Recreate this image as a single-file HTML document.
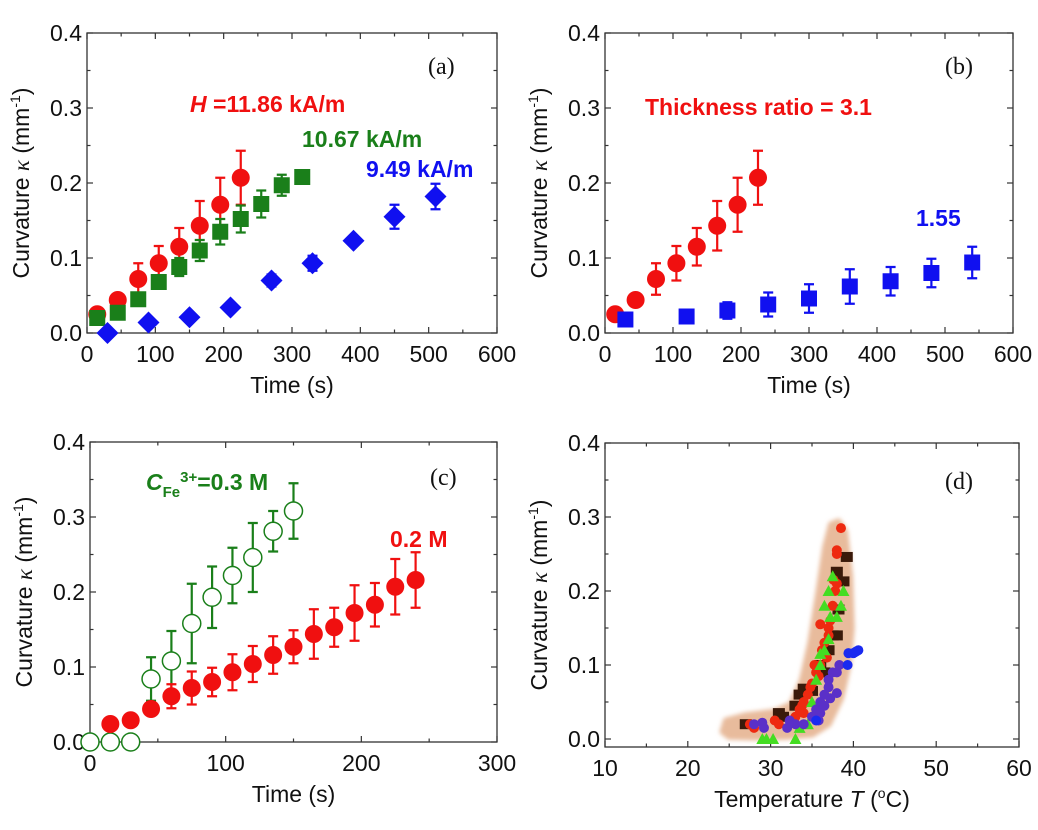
<!DOCTYPE html>
<html><head><meta charset="utf-8"><style>
body{margin:0;background:#fff;width:1038px;height:830px;overflow:hidden}
svg{display:block;font-family:"Liberation Sans",sans-serif}
</style></head><body>
<svg id="s" width="1038" height="830">
<defs><filter id="blur" x="-20%" y="-20%" width="140%" height="140%"><feGaussianBlur stdDeviation="2"/></filter></defs>
</svg>
<script>
// ---- data ----
const aRedT=[15,45,75,105,135,165,195,225];
const aRedY=[0.025,0.044,0.072,0.093,0.115,0.143,0.171,0.207];
const aRedE=[0,0,0.021,0.023,0.025,0.033,0.036,0.036];
const aGreenT=[15,45,75,105,135,165,195,225,255,285,315];
const aGreenY=[0.02,0.027,0.045,0.068,0.088,0.11,0.135,0.152,0.172,0.197,0.208];
const aGreenE=[0,0,0,0.008,0.012,0.014,0.017,0.018,0.018,0.014,0];
const aBlueT=[30,90,150,210,270,330,390,450,510];
const aBlueY=[0,0.014,0.021,0.034,0.07,0.093,0.123,0.155,0.182];
const aBlueE=[0,0,0,0,0.008,0.01,0.006,0.016,0.017];
const bBlueT=[30,120,180,240,300,360,420,480,540];
const bBlueY=[0.018,0.022,0.03,0.038,0.046,0.062,0.069,0.08,0.094];
const bBlueE=[0.004,0.005,0.011,0.016,0.019,0.023,0.019,0.019,0.021];
const cGreenT=[0,15,30,45,60,75,90,105,120,135,150];
const cGreenY=[0,0,0,0.084,0.108,0.158,0.193,0.222,0.246,0.281,0.308];
const cGreenE=[0,0,0,0.029,0.04,0.053,0.041,0.037,0.046,0.027,0.037];
const cRedT=[15,30,45,60,75,90,105,120,135,150,165,180,195,210,225,240];
const cRedY=[0.024,0.029,0.044,0.061,0.072,0.08,0.093,0.104,0.116,0.127,0.144,0.153,0.172,0.183,0.207,0.216];
const cRedE=[0,0,0,0.016,0.022,0.019,0.024,0.024,0.025,0.022,0.033,0.026,0.037,0.029,0.037,0.037];
const dRedT=[27.5,28,30.5,31,33,33.5,34,34.5,34.8,35,35.5,35.3,36,36.2,36.5,36,37,37.2,37.5,37.8,37.6,38,38,38,38.5,37,36.8,34,33.8,35.8];
const dRedK=[0.02,0.015,0.025,0.02,0.03,0.04,0.05,0.06,0.07,0.075,0.09,0.1,0.1,0.12,0.13,0.155,0.14,0.16,0.18,0.2,0.215,0.21,0.25,0.255,0.285,0.15,0.11,0.035,0.045,0.085];
const dBlackT=[27,31,31.5,33,33.5,34,35,36,37,37.5,38,38.2,38.8,39.2,38,36.5];
const dBlackK=[0.02,0.035,0.03,0.045,0.06,0.068,0.065,0.1,0.12,0.14,0.14,0.175,0.213,0.246,0.226,0.09];
const dGreenT=[29,29.5,30.3,33,33.5,34.5,35,35.5,36,36.5,36.5,37,37.2,37.5,38,38.5,38.8,37,36];
const dGreenK=[0,0,0,0,0.015,0.02,0.05,0.08,0.1,0.12,0.18,0.2,0.165,0.22,0.165,0.18,0.2,0.135,0.115];
const dPurpleT=[28,29,29.2,32,32.3,33,34,35,35.5,35.8,36,36.5,36,37,37,37.5,38,38,38.3,36.5,37.2];
const dPurpleK=[0.02,0.022,0.015,0.015,0.025,0.02,0.02,0.03,0.04,0.025,0.05,0.06,0.035,0.07,0.08,0.09,0.09,0.062,0.1,0.045,0.055];
const dBlueT=[39.3,39.4,40,40.3,40.6,35.5];
const dBlueK=[0.1,0.116,0.116,0.118,0.12,0.025];
const bandT=[24.2,24.6,27,30.5,32.5,33.8,34.8,35.8,36.6,37.3,38.2,39,39.6,39.8,39.4,38.5,37,35,32,28,25];
const bandK=[0.01,0.025,0.032,0.037,0.047,0.08,0.13,0.2,0.26,0.29,0.294,0.28,0.22,0.15,0.1,0.055,0.02,0.006,0.003,0.002,0.003];
const yTicks=[0,0.1,0.2,0.3,0.4];
const yTickLabels=["0.0","0.1","0.2","0.3","0.4"];
const tTicks600=[0,100,200,300,400,500,600];
const tTicks300=[0,100,200,300];
const tempTicks=[10,20,30,40,50,60];

const S=document.getElementById('s');const NS='http://www.w3.org/2000/svg';
function mk(tag,at,parent){const e=document.createElementNS(NS,tag);for(const k in at)e.setAttribute(k,at[k]);(parent||S).appendChild(e);return e;}

function panel(id,L,R,T,B,x0,x1,y0,y1,yb,xt,xlab){
  const g=mk('g',{});
  
  
  const sx=v=>L+(v-x0)/(x1-x0)*(R-L);
  const sy=v=>yb-(v-y0)/(y1-y0)*(yb-T);
  const fr=mk('rect',{x:L,y:T,width:R-L,height:B-T,fill:'none',stroke:'#333','stroke-width':1.3},g);
  
  for(let i=0;i<yTicks.length;i++){
    const y=sy(yTicks[i]);
    mk('line',{x1:L,x2:L+6,y1:y,y2:y,stroke:'#333','stroke-width':1.2},g);
    mk('line',{x1:R,x2:R-6,y1:y,y2:y,stroke:'#333','stroke-width':1.2},g);
    const t=mk('text',{x:L-5,y:y+8,'text-anchor':'end','font-size':23,fill:'#111'},g);t.textContent=yTickLabels[i];
    
    if(i<yTicks.length-1){const ym=sy((yTicks[i]+yTicks[i+1])/2);
      mk('line',{x1:L,x2:L+3.5,y1:ym,y2:ym,stroke:'#333','stroke-width':1.2},g);
      mk('line',{x1:R,x2:R-3.5,y1:ym,y2:ym,stroke:'#333','stroke-width':1.2},g);}
  }
  for(let i=0;i<xt.length;i++){
    const x=sx(xt[i]);
    mk('line',{x1:x,x2:x,y1:B,y2:B-6,stroke:'#333','stroke-width':1.2},g);
    mk('line',{x1:x,x2:x,y1:T,y2:T+6,stroke:'#333','stroke-width':1.2},g);
    const t=mk('text',{x:x,y:B+29,'text-anchor':'middle','font-size':23,fill:'#111'},g);t.textContent=xt[i];
    
    if(i<xt.length-1){const xm=sx((xt[i]+xt[i+1])/2);
      mk('line',{x1:xm,x2:xm,y1:B,y2:B-3.5,stroke:'#333','stroke-width':1.2},g);
      mk('line',{x1:xm,x2:xm,y1:T,y2:T+3.5,stroke:'#333','stroke-width':1.2},g);}
  }
  const yt=mk('text',{transform:`translate(${L-58},${(T+B)/2}) rotate(-90)`,'text-anchor':'middle','font-size':23,fill:'#111'},g);
  yt.innerHTML='Curvature <tspan font-family="Liberation Serif" font-style="italic">κ</tspan> (mm<tspan dy="-9" font-size="14">-1</tspan><tspan dy="9">)</tspan>';
  
  const xtt=mk('text',{x:(L+R)/2,y:B+60,'text-anchor':'middle','font-size':23,fill:'#111'},g);
  xtt.innerHTML=xlab;
  return {g,sx,sy};
}
function marker(p,shape,x,y,col,name){
  let e;const X=p.sx(x),Y=p.sy(y);
  if(shape==='c')e=mk('circle',{cx:X,cy:Y,r:9,fill:col},p.g);
  else if(shape==='o')e=mk('circle',{cx:X,cy:Y,r:9,fill:'#fff',stroke:col,'stroke-width':1.5},p.g);
  else if(shape==='s')e=mk('rect',{x:X-8,y:Y-8,width:16,height:16,fill:col},p.g);
  else if(shape==='d')e=mk('polygon',{points:`${X},${Y-11} ${X+11},${Y} ${X},${Y+11} ${X-11},${Y}`,fill:col},p.g);
  
}
function series(p,T,Y,E,shape,col,name){
  for(let i=0;i<T.length;i++){
    if(E[i]>0){const x=p.sx(T[i]),y1=p.sy(Y[i]-E[i]),y2=p.sy(Y[i]+E[i]);
      const eb=mk('path',{d:`M${x},${y1}V${y2}M${x-5},${y1}H${x+5}M${x-5},${y2}H${x+5}`,stroke:col,'stroke-width':2.2,fill:'none'},p.g);
      }
    marker(p,shape,T[i],Y[i],col,name+'-point');
  }
}
function label(p,x,y,html,col,size,name,serif){
  const t=mk('text',{x,y,'font-size':size,fill:col,'font-weight':serif?'normal':'bold','font-family':serif?'Liberation Serif':'Liberation Sans'},p.g);
  t.innerHTML=html;
}
const RED='#f01010',GRN='#1a7f1a',BLU='#1010f0';
// (a)
const pa=panel('a',87,497,33,333,0,600,0,0.4,333,tTicks600,'Time (s)');
series(pa,aRedT,aRedY,aRedE,'c',RED,'red-11.86');
series(pa,aGreenT,aGreenY,aGreenE,'s',GRN,'green-10.67');
series(pa,aBlueT,aBlueY,aBlueE,'d',BLU,'blue-9.49');
label(pa,190,112,'<tspan font-style="italic">H</tspan> =11.86 kA/m',RED,23,'label-11.86');
label(pa,302,147,'10.67 kA/m',GRN,23,'label-10.67');
label(pa,366,177,'9.49 kA/m',BLU,23,'label-9.49');
label(pa,428,74,'(a)','#111',24,'panel-label-a',true);
// (b)
const pb=panel('b',605,1013,33,333,0,600,0,0.4,333,tTicks600,'Time (s)');
series(pb,aRedT,aRedY,aRedE,'c',RED,'red-3.1');
series(pb,bBlueT,bBlueY,bBlueE,'s',BLU,'blue-1.55');
label(pb,645,115,'Thickness ratio = 3.1',RED,23,'label-3.1');
label(pb,916,226,'1.55',BLU,23,'label-1.55');
label(pb,945,74,'(b)','#111',24,'panel-label-b',true);
// (c)
const pc=panel('c',90,497,442,742,0,300,0,0.4,742,tTicks300,'Time (s)');
series(pc,cGreenT,cGreenY,cGreenE,'o',GRN,'green-0.3M');
series(pc,cRedT,cRedY,cRedE,'c',RED,'red-0.2M');
label(pc,146,490,'<tspan font-style="italic">C</tspan><tspan font-size="15" dy="7">Fe</tspan><tspan font-size="15" dy="-15">3+</tspan><tspan dy="8">=0.3 M</tspan>',GRN,23,'label-0.3M');
label(pc,390,547,'0.2 M',RED,23,'label-0.2M');
label(pc,430,485,'(c)','#111',24,'panel-label-c',true);
// (d)
const pd=panel('d',605,1019,443,747,10,60,0,0.4,739,tempTicks,'Temperature <tspan font-style="italic">T</tspan> (<tspan dy="-9" font-size="14">o</tspan><tspan dy="9">C)</tspan>');
const bp=bandT.map((t,i)=>pd.sx(t)+','+pd.sy(bandK[i])).join(' ');
const band=mk('polygon',{points:bp,fill:'#e8bb9c',stroke:'#e8bb9c','stroke-width':6,'stroke-linejoin':'round',filter:'url(#blur)'},pd.g);

function scat(T,K,shape,col,name){
  for(let i=0;i<T.length;i++){const X=pd.sx(T[i]),Y=pd.sy(K[i]);let e;
    if(shape==='c')e=mk('circle',{cx:X,cy:Y,r:5,fill:col},pd.g);
    else if(shape==='s')e=mk('rect',{x:X-6,y:Y-5,width:12,height:10,fill:col},pd.g);
    else e=mk('polygon',{points:`${X},${Y-6} ${X+6},${Y+5} ${X-6},${Y+5}`,fill:col},pd.g);
    }
}
scat(dBlackT,dBlackK,'s','#3a1a0a','black-square-point');
scat(dRedT,dRedK,'c','#ee2a10','red-circle-point');
scat(dGreenT,dGreenK,'t','#44dd22','green-triangle-point');
scat(dPurpleT,dPurpleK,'c','#5a30c8','purple-circle-point');
scat(dBlueT,dBlueK,'c','#1a2af0','blue-circle-point');
label(pd,945,489,'(d)','#111',24,'panel-label-d',true);
</script>
</body></html>
